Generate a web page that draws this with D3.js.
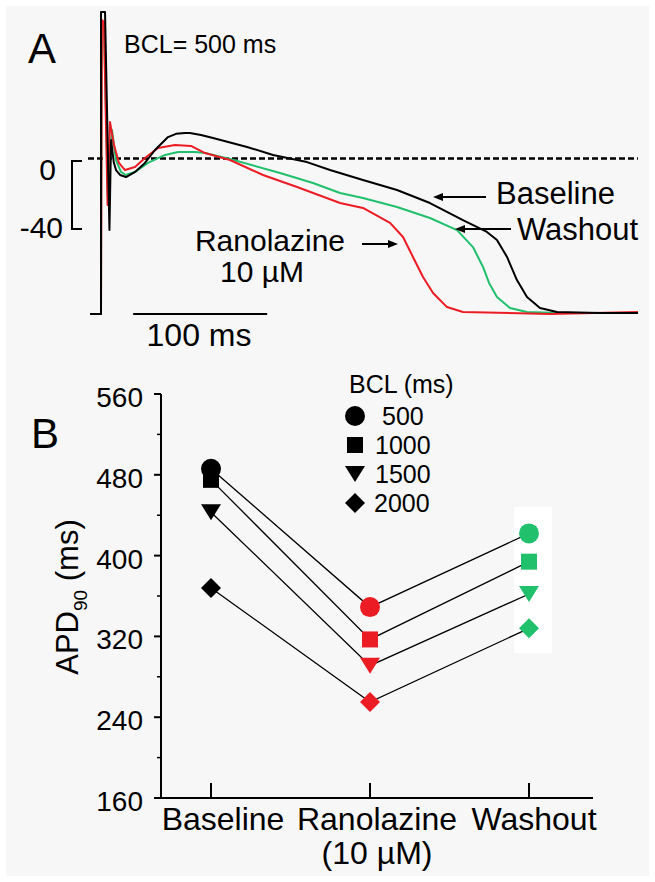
<!DOCTYPE html>
<html><head><meta charset="utf-8">
<script src="https://cdn.jsdelivr.net/npm/d3@7"></script>
<style>
html,body{margin:0;padding:0;background:#fff;}
svg{display:block;}
text{font-family:"Liberation Sans", Arial, sans-serif;fill:#000;}
</style>
</head><body>
<svg id="c" width="655" height="882"></svg>
<script>
// ---------- Panel A: action potential traces (time ms, voltage mV) ----------
const baselineTrace = [[-8.2,-91.5],[0,-91.5],[0,86.2],[3.0,86.2],[6.3,-42.1],[7.5,10.9],[9.5,-2],[11.2,-6.8],[14.2,-9.7],[18.7,-10.9],[25.4,-7.9],[32.8,-2.6],[40.3,5.0],[50,12.6],[56,14.5],[62.7,15.0],[66.4,15.0],[74.6,13.8],[83.6,12.1],[109,6.8],[128.4,2.1],[153.7,-2.1],[170.9,-6.8],[195.5,-12.6],[220.9,-18.5],[245.5,-26.2],[270.1,-36.2],[288,-43.2],[295.5,-47.9],[303,-57.9],[310.4,-71.5],[317.9,-81.5],[327.6,-87.9],[340.3,-90.3],[372.4,-90.9],[400.7,-90.9]];
const washoutTrace = [[-8.2,-91.5],[0,-91.5],[0.4,81],[2.2,78],[5.2,-24],[8.2,16.8],[11.2,-0.9],[14.9,-7.9],[18.7,-9.7],[25.4,-7.9],[35.1,-2.6],[47.8,2.1],[57.5,3.8],[70.1,3.8],[77.6,3.2],[96.3,-0.3],[133.6,-8.5],[158.2,-14.4],[178.4,-20.3],[195.5,-23.2],[220.9,-28.5],[245.5,-35],[265.7,-42.1],[277.6,-52.1],[285.1,-63.8],[289.6,-73.2],[295.5,-81.5],[305.2,-87.9],[317.9,-90.3],[342.5,-90.9],[400.7,-90.9]];
const ranolazineTrace = [[-8.2,-91.5],[0,-91.5],[0.7,81.5],[2.2,80.3],[4.9,-27.4],[6.7,21.5],[9.7,7.9],[13.4,-2.6],[17.9,-6.8],[25.4,-5],[32.8,0.3],[42.5,6.2],[55.2,7.9],[67.2,7.4],[77.6,3.2],[96.3,-0.9],[120.9,-9.7],[146.3,-16.8],[178.4,-26.2],[195.5,-29.1],[215.7,-37.9],[225.4,-46.2],[232.8,-57.9],[240.3,-69.7],[247.8,-79.1],[258.2,-87.4],[270.1,-90.3],[335,-91.5],[400.7,-90.3]];
const timeBar = [24, 124];      // 100 ms scale bar
const voltBar = [0, -40];       // mV scale bar
const zeroLine = [-9.7, 400.7]; // dashed 0 mV line extent (ms)

// ---------- Panel B: APD90 ----------
const categories = ["Baseline", "Ranolazine", "Washout"];
const categoryLines2 = ["", "(10 µM)", ""];
const bclLabels = ["500", "1000", "1500", "2000"];
const apd500  = [486, 349, 422];
const apd1000 = [475, 317, 394];
const apd1500 = [443, 291, 362];
const apd2000 = [368, 255, 328];
const yTicksMajor = [160, 240, 320, 400, 480, 560];
const yTicksMinor = [200, 280, 360, 440, 520];

const RED = "#ec1c24", GREEN = "#20c06c", BLACK = "#000";
const condColors = [BLACK, RED, GREEN];

const svg = d3.select("#c");
svg.append("rect").attr("x",6).attr("y",6).attr("width",643).attr("height",870).attr("fill","#f7f7f7");

// ===== Panel A =====
const xA = d3.scaleLinear().domain([0,100]).range([101,235]);
const yA = d3.scaleLinear().domain([0,-40]).range([158.5,226.5]);
const gA = svg.append("g");

gA.append("line").attr("x1",xA(zeroLine[0])).attr("x2",xA(zeroLine[1]))
  .attr("y1",yA(0)).attr("y2",yA(0))
  .attr("stroke","#000").attr("stroke-width",2.4).attr("stroke-dasharray","6,3");

const lineA = d3.line().x(d=>xA(d[0])).y(d=>yA(d[1])).curve(d3.curveLinear);
[[washoutTrace,GREEN],[ranolazineTrace,RED],[baselineTrace,BLACK]].forEach(([tr,c])=>{
  gA.append("path").datum(tr).attr("d",lineA).attr("fill","none")
    .attr("stroke",c).attr("stroke-width",2).attr("stroke-linejoin","round");
});

// scale bars
gA.append("line").attr("x1",xA(timeBar[0])).attr("x2",xA(timeBar[1]))
  .attr("y1",314).attr("y2",314).attr("stroke","#000").attr("stroke-width",2);
gA.append("text").attr("x",199).attr("y",346)
  .attr("text-anchor","middle").attr("font-size",32).text("100 ms");
const vb0 = yA(voltBar[0])+2.5, vb1 = yA(voltBar[1])+2.5;
gA.append("path").attr("d",`M82,${vb0}H72V${vb1}H82`).attr("fill","none")
  .attr("stroke","#000").attr("stroke-width",2);
gA.append("text").attr("x",56).attr("y",180).attr("text-anchor","end").attr("font-size",30).text("0");
gA.append("text").attr("x",63).attr("y",238).attr("text-anchor","end").attr("font-size",30).text("-40");

gA.append("text").attr("x",28).attr("y",63).attr("font-size",42).text("A");
gA.append("text").attr("x",124).attr("y",53).attr("font-size",25).text("BCL= 500 ms");

// annotations
function arrow(x1,x2,y){
  const dir = Math.sign(x2-x1);
  gA.append("line").attr("x1",x1).attr("x2",x2-dir*6).attr("y1",y).attr("y2",y)
    .attr("stroke","#000").attr("stroke-width",2);
  gA.append("path").attr("d",`M${x2},${y}L${x2-dir*10},${y-4}L${x2-dir*10},${y+4}Z`).attr("fill","#000");
}
arrow(486,433,197);
arrow(511,455,229);
arrow(362,398,244);
gA.append("text").attr("x",496).attr("y",204).attr("font-size",31).text("Baseline");
gA.append("text").attr("x",517).attr("y",240).attr("font-size",31).text("Washout");
gA.append("text").attr("x",270).attr("y",251).attr("text-anchor","middle").attr("font-size",30).text("Ranolazine");
gA.append("text").attr("x",262).attr("y",282).attr("text-anchor","middle").attr("font-size",30).text("10 µM");

// ===== Panel B =====
const gB = svg.append("g");
const yB = d3.scaleLinear().domain([160,560]).range([798,394]);
const xB = d3.scalePoint().domain(categories).range([211,529]);

// white box behind washout markers
gB.append("rect").attr("x",xB("Washout")-15).attr("y",507).attr("width",38).attr("height",146).attr("fill","#fff");

// axes
gB.append("line").attr("x1",161).attr("x2",161).attr("y1",yB(560)).attr("y2",yB(160)+1)
  .attr("stroke","#000").attr("stroke-width",2);
gB.append("line").attr("x1",160).attr("x2",593).attr("y1",yB(160)).attr("y2",yB(160))
  .attr("stroke","#000").attr("stroke-width",2);
yTicksMajor.forEach(v=>{
  gB.append("line").attr("x1",154).attr("x2",161).attr("y1",yB(v)).attr("y2",yB(v)).attr("stroke","#000").attr("stroke-width",2);
  gB.append("text").attr("x",143).attr("y",yB(v)+13).attr("text-anchor","end").attr("font-size",28).text(v);
});
yTicksMinor.forEach(v=>{
  gB.append("line").attr("x1",157).attr("x2",161).attr("y1",yB(v)).attr("y2",yB(v)).attr("stroke","#000").attr("stroke-width",1.5);
});
const labelShift = [12, 7, 5];
categories.forEach((c,i)=>{
  gB.append("line").attr("x1",xB(c)).attr("x2",xB(c)).attr("y1",yB(160)).attr("y2",yB(160)-15)
    .attr("stroke","#000").attr("stroke-width",2);
  gB.append("text").attr("x",xB(c)+labelShift[i]).attr("y",830).attr("text-anchor","middle").attr("font-size",32).text(c);
  if (categoryLines2[i]) gB.append("text").attr("x",xB(c)+labelShift[i]).attr("y",864).attr("text-anchor","middle").attr("font-size",32).text(categoryLines2[i]);
});

// y label
const yl = gB.append("text").attr("transform","translate(78,597) rotate(-90)").attr("text-anchor","middle").attr("font-size",31);
yl.append("tspan").text("APD");
yl.append("tspan").attr("font-size",19).attr("dy",9).text("90");
yl.append("tspan").attr("dy",-9).text(" (ms)");

gB.append("text").attr("x",31).attr("y",448).attr("font-size",42).text("B");

// markers
function marker(g, shape, x, y, color){
  if (shape===0) g.append("circle").attr("cx",x).attr("cy",y).attr("r",10).attr("fill",color);
  else if (shape===1) g.append("rect").attr("x",x-8).attr("y",y-8).attr("width",16).attr("height",16).attr("fill",color);
  else if (shape===2) g.append("path").attr("d",`M${x-10},${y-8}L${x+10},${y-8}L${x},${y+8}Z`).attr("fill",color);
  else g.append("path").attr("d",`M${x},${y-10}L${x+10},${y}L${x},${y+10}L${x-10},${y}Z`).attr("fill",color);
}
const series = [apd500, apd1000, apd1500, apd2000];
const lineB = d3.line().x((d,i)=>xB(categories[i])).y(d=>yB(d));
series.forEach(s=>{
  gB.append("path").datum(s).attr("d",lineB).attr("fill","none").attr("stroke","#000").attr("stroke-width",1.3);
});
series.forEach((s,k)=>{
  s.forEach((v,i)=> marker(gB, k, xB(categories[i]), yB(v), condColors[i]));
});

// legend
gB.append("text").attr("x",349).attr("y",393).attr("font-size",25).text("BCL (ms)");
const legY = [416, 445, 474, 503];
const legTx = [382, 375, 375, 374];
bclLabels.forEach((l,k)=>{
  marker(gB, k, 355, legY[k], "#000");
  gB.append("text").attr("x",legTx[k]).attr("y",legY[k]+9).attr("font-size",25).text(l);
});
</script>
</body></html>
